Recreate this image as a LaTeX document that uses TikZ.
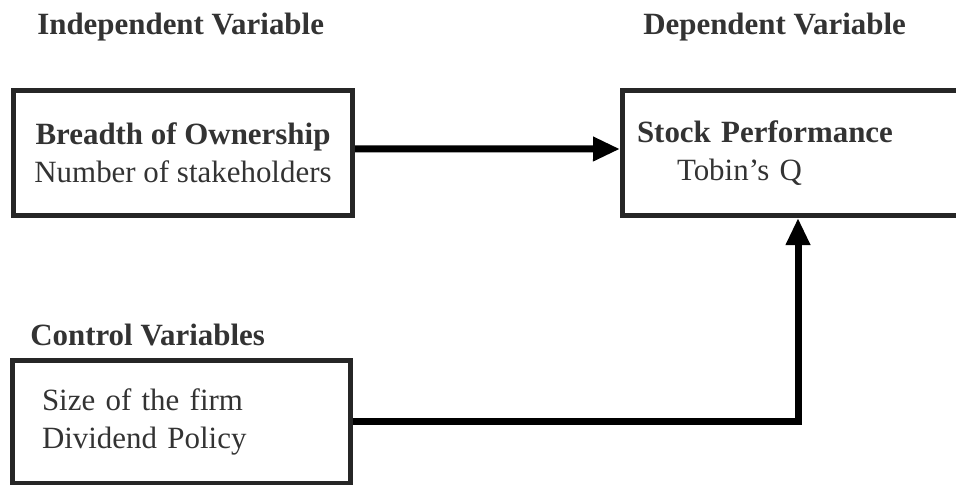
\documentclass[tikz,border=0pt]{standalone}
\usepackage{fontspec}
\setmainfont{Liberation Serif}
\usetikzlibrary{arrows.meta}

\tikzset{
    varbox/.style={draw=black!85, line width=0.125cm, rectangle, text=black!80, font=\fontsize{22}{27}\selectfont},
    heading/.style={anchor=base west, inner sep=0pt, text=black!80, font=\fontsize{22}{27}\selectfont\bfseries},
    link/.style={line width=0.175cm, -{Triangle[length=0.675cm,width=0.575cm]}}
}

\begin{document}
\begin{tikzpicture}
    \useasboundingbox (0,0) rectangle (23.9,-12.125);

    \node [heading] (indep) at (0.925,-0.875) {Independent Variable};
    \node [heading] (dep) at (16.075,-0.875) {Dependent Variable};
    \node [heading] (ctrl) at (0.75,-8.625) {Control Variables};

    \node [varbox, minimum width=8.475cm, minimum height=3.11cm, inner sep=0pt, align=center] (breadth) at (4.575,-3.82) {\textbf{Breadth of Ownership}\\Number of stakeholders};
    \node [varbox, minimum width=8.775cm, minimum height=3.125cm, text width=8.05cm, inner xsep=0.3625cm, align=left] (stock) at (19.95,-3.825) {\textbf{Stock Performance}\\\hspace*{1cm}Tobin's Q};
    \node [varbox, minimum width=8.45cm, minimum height=3.0875cm, text width=6.975cm, inner xsep=0.7375cm, align=left] (control) at (4.5375,-10.556) {Size of the firm\\Dividend Policy};

    \draw [link] ([yshift=0.1cm]breadth.east) -- ([yshift=0.1cm]stock.west);
    \draw [link] ([yshift=0.03cm]control.east) -| (stock.south);
\end{tikzpicture}
\end{document}
